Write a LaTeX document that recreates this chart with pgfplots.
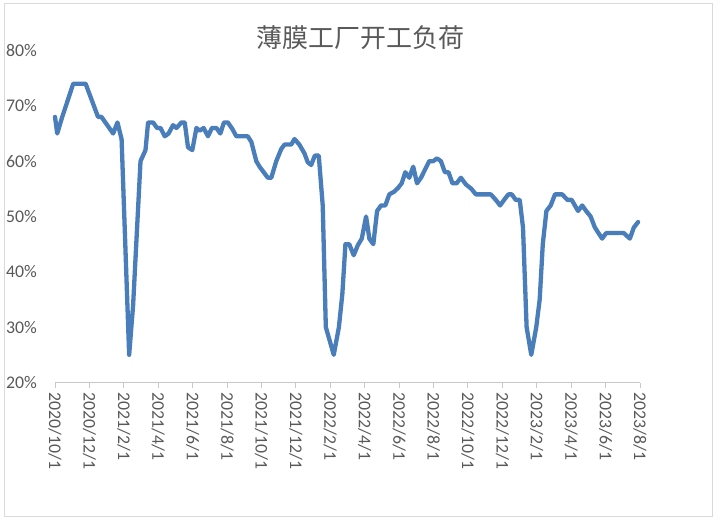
\documentclass[border=0pt]{standalone}
\usepackage{pgfplots}
\pgfplotsset{compat=1.18}
\usepackage{fontspec}
\setmainfont{Carlito}
\newfontfamily\cjk{Noto Sans CJK SC}

\definecolor{lineblue}{HTML}{4A7EBB}
\definecolor{textgray}{HTML}{595959}
\definecolor{axisgray}{HTML}{C8C8C8}
\definecolor{framegray}{HTML}{D9D9D9}

\begin{document}
\begin{tikzpicture}
\useasboundingbox (0,0) rectangle (720bp,523bp);
\draw[framegray, line width=1bp] (4bp,6bp) rectangle (712bp,519bp);
\node[textgray, font=\cjk\fontsize{26bp}{30bp}\selectfont] at (360bp,485bp) {薄膜工厂开工负荷};

\begin{axis}[
    at={(55bp,140.5bp)}, anchor=south west,
    scale only axis,
    width=585bp, height=332bp,
    xmin=0, xmax=34,
    ymin=20, ymax=80,
    axis x line*=bottom,
    axis y line*=left,
    y axis line style={draw=none},
    x axis line style={axisgray, line width=1bp},
    ytick={20,30,...,80},
    ytick style={draw=none},
    xtick={0,2,...,34},
    xtick style={axisgray, line width=1bp},
    tick align=outside,
    major tick length=5bp,
    xticklabels={2020/10/1,2020/12/1,2021/2/1,2021/4/1,2021/6/1,2021/8/1,
      2021/10/1,2021/12/1,2022/2/1,2022/4/1,2022/6/1,2022/8/1,
      2022/10/1,2022/12/1,2023/2/1,2023/4/1,2023/6/1,2023/8/1},
    yticklabel={\pgfmathparse{int(\tick)}\pgfmathresult\%},
    tick label style={textgray, font=\fontsize{17.8bp}{20bp}\selectfont},
    xticklabel style={rotate=-90, anchor=west, inner sep=0pt, xshift=5bp},
    yticklabel style={anchor=east, inner sep=0pt, xshift=-13bp},
    clip=false,
]
\addplot[lineblue, line width=4.3bp, line join=round, line cap=round] coordinates {
(0,68) (0.13,65) (0.4,67.8) (1.06,74) (1.78,74) (2.5,68) (2.7,68)
(3.38,65) (3.63,67) (3.87,64) (4.31,25) (4.54,34) (4.97,60) (5.26,62)
(5.41,67) (5.7,67) (5.93,66) (6.13,66) (6.38,64.5) (6.6,65) (6.86,66.5)
(7.06,66) (7.35,67) (7.54,67) (7.73,62.5) (7.98,62) (8.22,66) (8.41,65.5)
(8.64,66) (8.89,64.5) (9.12,66) (9.38,66) (9.61,65) (9.82,67) (10.05,67)
(10.31,65.8) (10.54,64.5) (11.2,64.5) (11.41,63.5) (11.7,60) (11.89,59)
(12.37,57) (12.57,57) (12.86,60) (13.15,62.2) (13.34,63) (13.73,63)
(13.92,64) (14.2,63) (14.5,61.4) (14.69,59.8) (14.89,59.3) (15.1,61)
(15.33,61) (15.56,52) (15.74,30) (16.2,25) (16.5,30) (16.7,36) (16.88,45)
(17.1,45) (17.36,43) (17.6,44.8) (17.83,46) (18.08,50) (18.27,46) (18.5,45)
(18.72,51) (18.95,52) (19.2,52) (19.43,54) (19.72,54.5) (19.95,55.2)
(20.15,56) (20.36,58) (20.59,57) (20.82,59) (21.04,56) (21.27,57)
(21.75,60) (21.98,60) (22.2,60.5) (22.43,60) (22.66,58) (22.87,58)
(23.1,56) (23.34,56) (23.59,57) (23.88,55.8) (24.2,55) (24.46,54)
(25.33,54) (25.62,53) (25.87,52) (26.1,53) (26.35,54) (26.55,54)
(26.78,53) (27.01,53) (27.2,48) (27.41,30) (27.68,25) (27.97,30)
(28.17,35) (28.35,45) (28.56,51) (28.81,52) (29.06,54) (29.48,54)
(29.78,53) (30.03,53) (30.4,51) (30.64,52) (30.87,51) (31.13,50)
(31.38,48) (31.8,46) (32.03,47) (33.06,47) (33.41,46) (33.64,48) (33.89,49)
};
\end{axis}
\end{tikzpicture}
\end{document}
